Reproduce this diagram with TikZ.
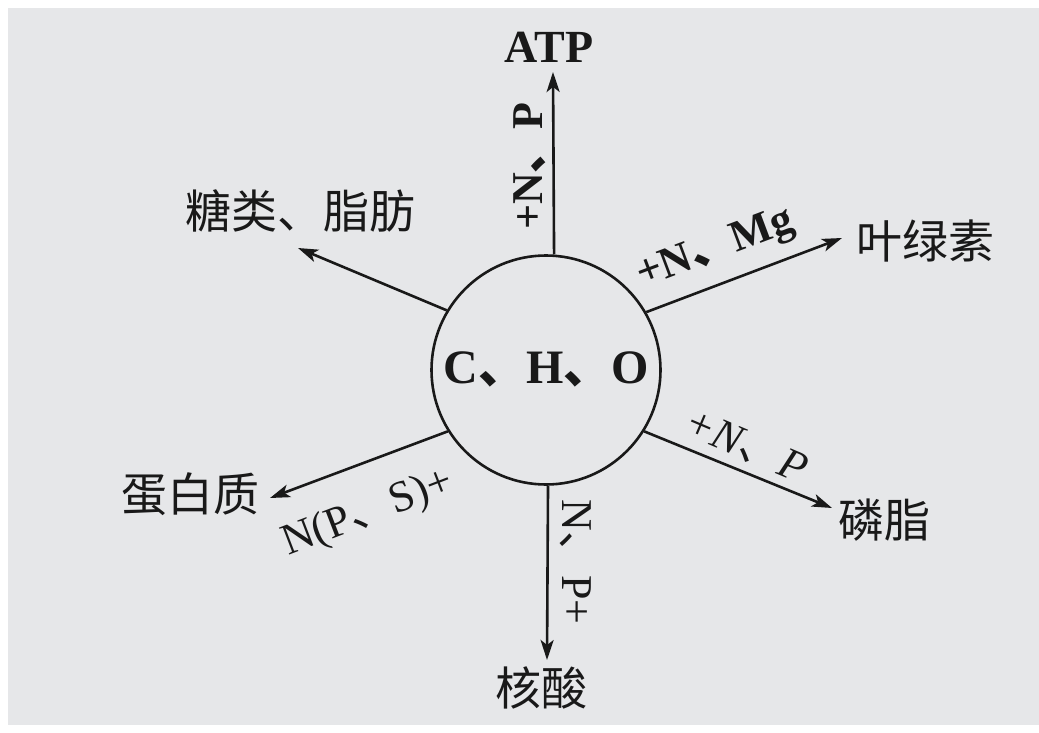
\documentclass[tikz,border=0pt]{standalone}
\usepackage{fontspec}
\setmainfont{Liberation Serif}
\newfontfamily\cjk{Noto Sans CJK SC}
\usetikzlibrary{arrows.meta}
\definecolor{bg}{RGB}{230,231,233}
\definecolor{ink}{RGB}{25,25,25}
\newcommand{\dun}{{\cjk 、}}
\begin{document}
\begin{tikzpicture}[x=1pt,y=-1pt,
  lbl/.style={text=ink, inner sep=0pt},
  lat/.style={lbl, font=\fontsize{44}{48}\selectfont},
  latb/.style={lbl, font=\bfseries\fontsize{44}{48}\selectfont},
  lati/.style={lbl, font=\itshape\fontsize{44}{48}\selectfont},
  cn/.style={lbl, font=\cjk\fontsize{46}{50}\selectfont},
  arr/.style={draw=ink, line width=2.6pt, -{Stealth[length=20pt,width=13pt,inset=5pt]}}]
\useasboundingbox (0,0) rectangle (1039,733);
\fill[white] (0,0) rectangle (1039,733);
\fill[bg] (8,8) rectangle (1039,725);
% centre
\node[circle, draw=ink, line width=2.6pt, minimum size=229pt, inner sep=0pt] (c) at (546,370) {};
\node[lbl, font=\bfseries\fontsize{48}{52}\selectfont] (cho) at (546,369) {C\dun H\dun O};
% targets
\node[lbl, font=\bfseries\fontsize{46}{50}\selectfont] (atp) at (549,47) {ATP};
\node[cn] (sugar) at (300,211) {糖类、脂肪};
\node[cn] (chl) at (925,241) {叶绿素};
\node[cn] (phl) at (884,520) {磷脂};
\node[cn] (nuc) at (541,688) {核酸};
\node[cn] (pro) at (190,494) {蛋白质};
% arrow tips
\coordinate (tatp) at (553,72);
\coordinate (tchl) at (842,238);
\coordinate (tphl) at (832,508);
\coordinate (tnuc) at (547,660);
\coordinate (tpro) at (270,498);
\coordinate (tsug) at (298,248);
% connectors
\draw[arr] (c.86.5) -- (tatp);
\draw[arr] (c.30.4) -- (tchl);
\draw[arr] (c.-32.5) -- (tphl);
\draw[arr] (c.-89.5) -- (tnuc);
\draw[arr] (c.212.5) -- (tpro);
\draw[arr] (c.149.3) -- (tsug);
% labels
\node[latb, rotate=90] (l1) at (530,166) {+N\dun P};
\node[latb, rotate=20.6] (l2) at (716,250) {+N\dun Mg};
\node[lati, rotate=-23] (l3) at (746,446) {+N\dun P};
\node[lat, rotate=-90] (l4) at (576,562) {N\dun P+};
\node[lat, rotate=21] (l5) at (368,514) {N(P\dun S)+};
\end{tikzpicture}
\end{document}
